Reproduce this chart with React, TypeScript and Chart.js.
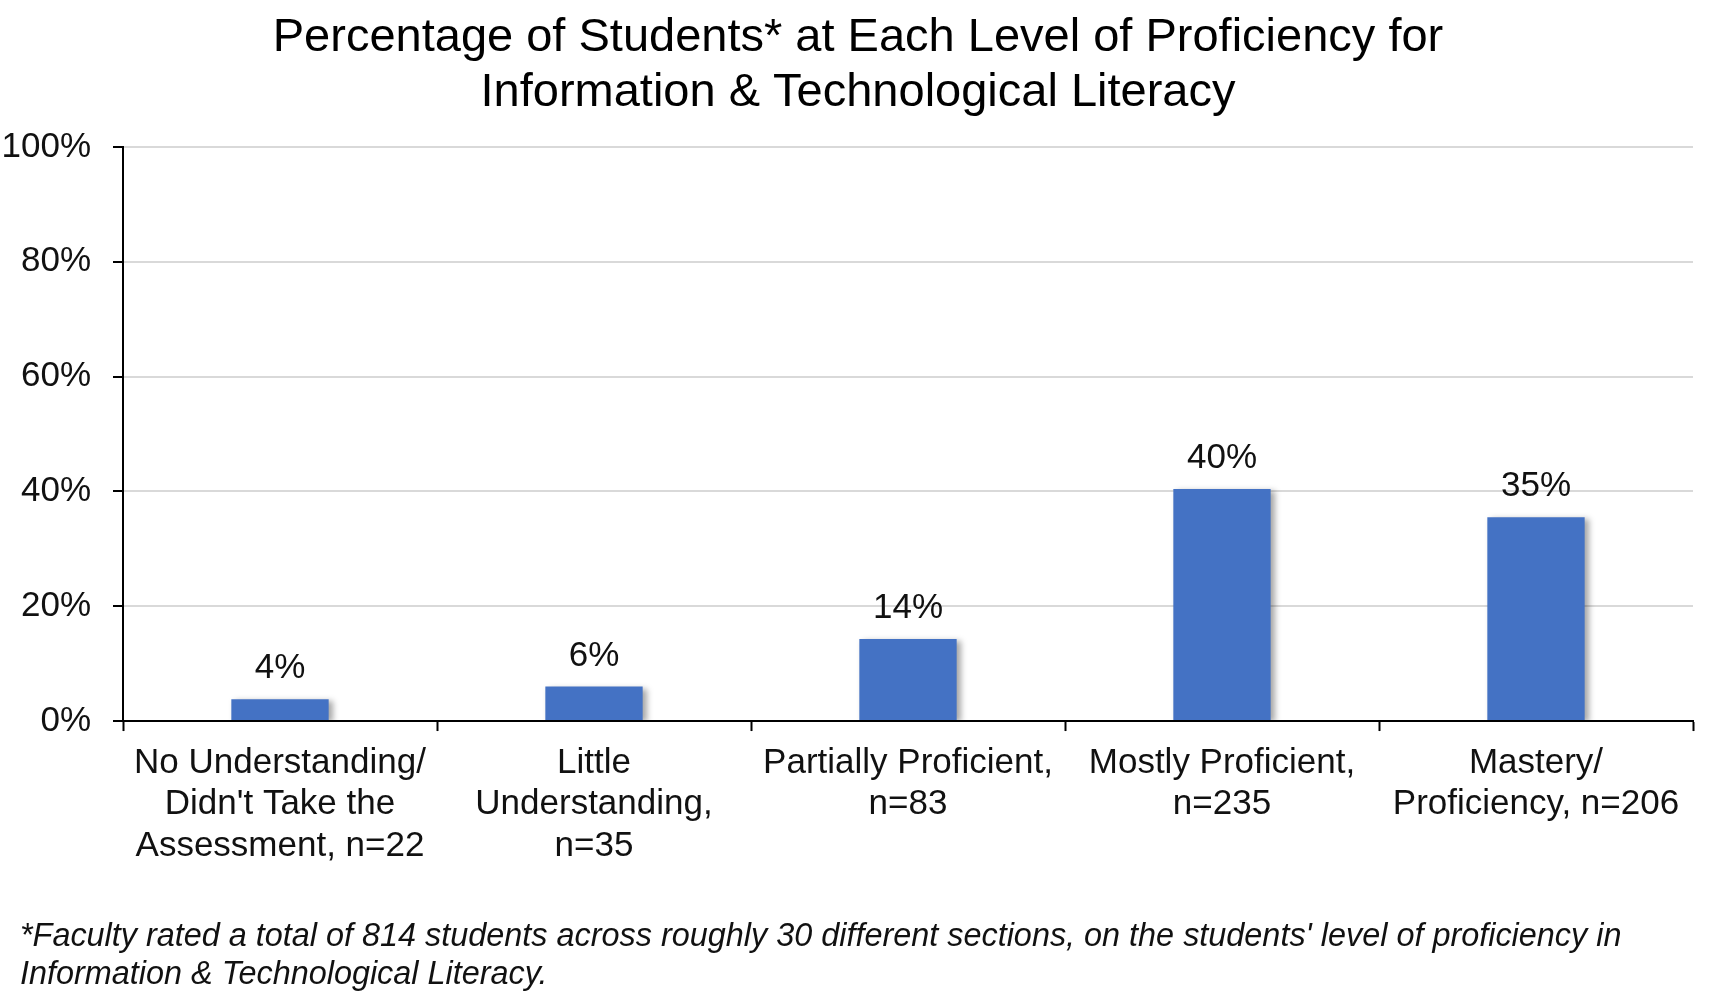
import React, { useEffect, useRef } from "react";
import { Chart, registerables } from "chart.js";

Chart.register(...registerables);

const titleLines = [
  "Percentage of Students* at Each Level of Proficiency for",
  "Information & Technological Literacy",
];

const categories: string[][] = [
  ["No Understanding/", "Didn't Take the", "Assessment, n=22"],
  ["Little", "Understanding,", "n=35"],
  ["Partially Proficient,", "n=83"],
  ["Mostly Proficient,", "n=235"],
  ["Mastery/", "Proficiency, n=206"],
];

const values = [3.8, 6.0, 14.3, 40.4, 35.5];
const valueLabels = ["4%", "6%", "14%", "40%", "35%"];

const yTicks = [0, 20, 40, 60, 80, 100];

const footnoteLines = [
  "*Faculty rated a total of 814 students across roughly 30 different sections, on the students' level of proficiency in",
  "Information & Technological Literacy.",
];

const FONT = "'Liberation Sans', Arial, sans-serif";

export default function App() {
  const canvasRef = useRef<HTMLCanvasElement | null>(null);

  useEffect(() => {
    if (!canvasRef.current) return;

    const shadowPlugin = {
      id: "barShadow",
      beforeDatasetDraw(chart: any) {
        const ctx = chart.ctx;
        ctx.save();
        ctx.shadowColor = "rgba(0,0,0,0.35)";
        ctx.shadowBlur = 6;
        ctx.shadowOffsetX = 4;
        ctx.shadowOffsetY = 2;
      },
      afterDatasetDraw(chart: any) {
        chart.ctx.restore();
      },
    };

    const titleShift = {
      id: "titleShift",
      afterLayout(chart: any) {
        const tb = chart.titleBlock;
        if (tb) tb.left += 21;
      },
    };

    const labelPlugin = {
      id: "valueLabels",
      afterDatasetsDraw(chart: any) {
        const ctx = chart.ctx;
        const meta = chart.getDatasetMeta(0);
        ctx.save();
        ctx.font = `35px ${FONT}`;
        ctx.fillStyle = "#111";
        ctx.textAlign = "center";
        ctx.textBaseline = "bottom";
        meta.data.forEach((el: any, i: number) => {
          ctx.fillText(valueLabels[i], el.x, el.y - 13);
        });
        ctx.restore();
      },
    };

    const chart = new Chart(canvasRef.current, {
      type: "bar",
      data: {
        labels: categories,
        datasets: [
          {
            data: values,
            backgroundColor: "#4472C4",
            borderWidth: 0,
            categoryPercentage: 1,
            barPercentage: 0.31,
          },
        ],
      },
      options: {
        animation: false,
        responsive: false,
        maintainAspectRatio: false,
        devicePixelRatio: 1,
        layout: { padding: { left: 2, right: 27, top: 10, bottom: 128 } },
        plugins: {
          legend: { display: false },
          tooltip: { enabled: false },
          title: {
            display: true,
            text: titleLines,
            color: "#000",
            font: { family: FONT, size: 47, weight: "normal", lineHeight: 1.18 },
            padding: { top: 0, bottom: 26 },
          },
        },
        scales: {
          x: {
            type: "category",
            offset: true,
            grid: {
              display: true,
              offset: true,
              drawOnChartArea: false,
              drawTicks: true,
              tickLength: 10,
              tickColor: "#000",
              tickWidth: 2,
            },
            border: { display: true, color: "#000", width: 2 },
            ticks: {
              color: "#111",
              font: { family: FONT, size: 35, lineHeight: 1.19 },
              padding: 11,
              maxRotation: 0,
              autoSkip: false,
            },
          },
          y: {
            min: 0,
            max: 100,
            afterBuildTicks(scale: any) {
              scale.ticks = yTicks.map((v) => ({ value: v }));
            },
            afterFit(scale: any) {
              scale.width = 121;
            },
            grid: {
              color: "#d9d9d9",
              lineWidth: 2,
              drawTicks: true,
              tickLength: 10,
              tickColor: "#000",
              tickWidth: 2,
            },
            border: { display: true, color: "#000", width: 2 },
            ticks: {
              color: "#111",
              font: { family: FONT, size: 35 },
              padding: 22,
              callback: (v: any) => `${v}%`,
            },
          },
        },
      },
      plugins: [shadowPlugin, labelPlugin, titleShift],
    });

    return () => chart.destroy();
  }, []);

  return (
    <div
      style={{
        position: "absolute",
        left: 0,
        top: 0,
        width: 1720,
        height: 1006,
        background: "#fff",
      }}
    >
      <canvas
        ref={canvasRef}
        width={1720}
        height={1006}
        style={{ width: 1720, height: 1006, display: "block" }}
      />
      <div
        style={{
          position: "absolute",
          left: 20,
          top: 916,
          fontFamily: FONT,
          fontStyle: "italic",
          fontSize: 32.4,
          lineHeight: "38px",
          color: "#111",
          whiteSpace: "nowrap",
        }}
      >
        {footnoteLines.map((l, i) => (
          <div key={i}>{l}</div>
        ))}
      </div>
    </div>
  );
}
